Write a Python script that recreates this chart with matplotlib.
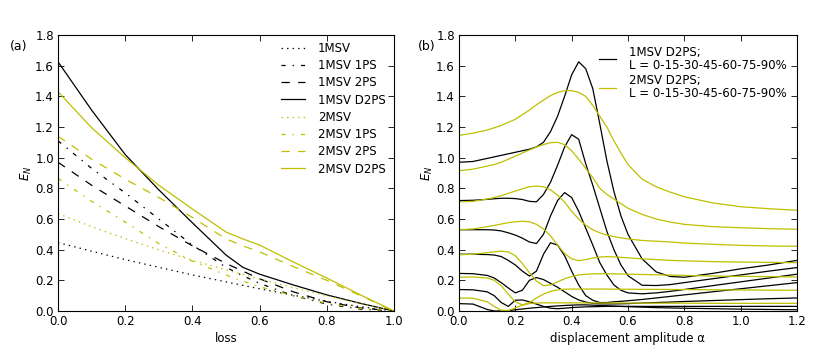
import matplotlib
matplotlib.use('Agg')
import matplotlib.pyplot as plt

plt.rcParams['font.family'] = ['DejaVu Sans']
plt.rcParams['font.size'] = 8.5
plt.rcParams['lines.scale_dashes'] = False
plt.rcParams['lines.dashed_pattern'] = [6, 6]
plt.rcParams['lines.dashdot_pattern'] = [3, 5, 1, 5]
plt.rcParams['lines.dotted_pattern'] = [1, 3]

YEL = (0.75, 0.75, 0.0)

# ---- panel (a): E_N vs loss ----
loss = [0.0, 0.1, 0.2, 0.3, 0.4, 0.5, 0.55, 0.6, 0.7, 0.8, 0.9, 1.0]
msv1 = [0.446, 0.39, 0.335, 0.285, 0.235, 0.19, 0.167, 0.145, 0.103, 0.063, 0.028, 0.0]
msv1_1ps = [1.11, 0.93, 0.77, 0.60, 0.43, 0.285, 0.23, 0.18, 0.10, 0.045, 0.012, 0.0]
msv1_2ps = [0.97, 0.82, 0.685, 0.55, 0.425, 0.31, 0.26, 0.21, 0.125, 0.06, 0.02, 0.0]
msv1_d2ps = [1.625, 1.31, 1.02, 0.79, 0.575, 0.365, 0.285, 0.24, 0.17, 0.105, 0.05, 0.0]
msv2 = [0.635, 0.55, 0.472, 0.399, 0.331, 0.268, 0.238, 0.208, 0.152, 0.099, 0.048, 0.0]
msv2_1ps = [0.865, 0.715, 0.58, 0.44, 0.325, 0.235, 0.195, 0.158, 0.10, 0.05, 0.017, 0.0]
msv2_2ps = [1.14, 0.99, 0.86, 0.74, 0.61, 0.47, 0.425, 0.385, 0.29, 0.20, 0.10, 0.0]
msv2_d2ps = [1.43, 1.195, 1.0, 0.82, 0.665, 0.515, 0.47, 0.43, 0.32, 0.215, 0.105, 0.0]

# ---- panel (b): E_N vs displacement, L = 0..90% ----
alpha = [0, 0.05, 0.1, 0.125, 0.15, 0.175, 0.2, 0.225, 0.25, 0.275, 0.3, 0.325, 0.35,
         0.375, 0.4, 0.425, 0.45, 0.475, 0.5, 0.525, 0.55, 0.575, 0.6, 0.65, 0.7,
         0.75, 0.8, 0.9, 1.0, 1.1, 1.2]
d1_L0 = [0.97, 0.975, 0.995, 1.005, 1.015, 1.025, 1.035, 1.045, 1.055, 1.07, 1.10, 1.17, 1.27,
         1.40, 1.54, 1.625, 1.58, 1.45, 1.22, 0.98, 0.78, 0.62, 0.50, 0.34, 0.255,
         0.225, 0.22, 0.245, 0.275, 0.30, 0.33]
d1_L15 = [0.72, 0.722, 0.728, 0.732, 0.735, 0.735, 0.733, 0.727, 0.715, 0.712, 0.76, 0.84, 0.95,
          1.07, 1.15, 1.12, 0.96, 0.82, 0.67, 0.52, 0.40, 0.30, 0.23, 0.168, 0.166,
          0.172, 0.185, 0.21, 0.235, 0.26, 0.283]
d1_L30 = [0.53, 0.53, 0.53, 0.528, 0.522, 0.51, 0.495, 0.475, 0.45, 0.44, 0.50, 0.62, 0.72,
          0.772, 0.74, 0.65, 0.54, 0.43, 0.315, 0.235, 0.17, 0.135, 0.118, 0.112, 0.118,
          0.128, 0.14, 0.165, 0.19, 0.215, 0.24]
d1_L45 = [0.37, 0.37, 0.368, 0.365, 0.355, 0.33, 0.30, 0.26, 0.228, 0.26, 0.37, 0.445, 0.43,
          0.36, 0.26, 0.17, 0.10, 0.07, 0.055, 0.055, 0.06, 0.063, 0.067, 0.075, 0.085,
          0.095, 0.105, 0.125, 0.145, 0.165, 0.185]
d1_L60 = [0.245, 0.243, 0.232, 0.215, 0.185, 0.15, 0.118, 0.135, 0.20, 0.218, 0.205, 0.18, 0.155,
          0.125, 0.095, 0.072, 0.058, 0.05, 0.047, 0.046, 0.046, 0.047, 0.048, 0.052, 0.055,
          0.058, 0.062, 0.068, 0.074, 0.08, 0.085]
d1_L75 = [0.14, 0.138, 0.125, 0.10, 0.055, 0.03, 0.07, 0.072, 0.06, 0.045, 0.03, 0.018, 0.015,
          0.018, 0.022, 0.025, 0.027, 0.028, 0.029, 0.03, 0.03, 0.03, 0.03, 0.03, 0.03,
          0.03, 0.03, 0.03, 0.03, 0.03, 0.03]
d1_L90 = [0.048, 0.045, 0.01, 0.0, 0.0, 0.002, 0.008, 0.013, 0.018, 0.022, 0.026, 0.03, 0.033,
          0.036, 0.038, 0.04, 0.04, 0.038, 0.036, 0.034, 0.032, 0.03, 0.028, 0.025, 0.022,
          0.02, 0.018, 0.015, 0.012, 0.01, 0.008]

d2_L0 = [1.145, 1.16, 1.18, 1.195, 1.21, 1.23, 1.25, 1.28, 1.31, 1.345, 1.375, 1.405, 1.425,
         1.437, 1.437, 1.425, 1.40, 1.34, 1.27, 1.20, 1.11, 1.03, 0.955, 0.86, 0.81,
         0.775, 0.745, 0.705, 0.68, 0.667, 0.657]
d2_L15 = [0.915, 0.925, 0.945, 0.955, 0.97, 0.99, 1.01, 1.03, 1.05, 1.07, 1.085, 1.098, 1.10,
          1.085, 1.045, 0.99, 0.93, 0.87, 0.80, 0.76, 0.73, 0.70, 0.67, 0.63, 0.60,
          0.58, 0.565, 0.55, 0.543, 0.537, 0.533]
d2_L30 = [0.712, 0.715, 0.73, 0.74, 0.752, 0.767, 0.782, 0.797, 0.81, 0.815, 0.81, 0.79, 0.755,
          0.71, 0.65, 0.60, 0.56, 0.53, 0.51, 0.495, 0.485, 0.477, 0.47, 0.46, 0.455,
          0.45, 0.443, 0.435, 0.428, 0.424, 0.422]
d2_L45 = [0.53, 0.535, 0.55, 0.558, 0.567, 0.576, 0.582, 0.585, 0.582, 0.565, 0.535, 0.49, 0.43,
          0.375, 0.34, 0.328, 0.335, 0.345, 0.352, 0.354, 0.353, 0.35, 0.347, 0.34, 0.335,
          0.33, 0.327, 0.322, 0.319, 0.317, 0.315]
d2_L60 = [0.367, 0.37, 0.38, 0.386, 0.39, 0.385, 0.36, 0.31, 0.25, 0.195, 0.165, 0.17, 0.19,
          0.21, 0.225, 0.235, 0.24, 0.242, 0.243, 0.243, 0.242, 0.241, 0.24, 0.238, 0.236,
          0.234, 0.232, 0.228, 0.226, 0.224, 0.222]
d2_L75 = [0.22, 0.222, 0.215, 0.20, 0.165, 0.11, 0.06, 0.04, 0.055, 0.085, 0.11, 0.128, 0.138,
          0.142, 0.143, 0.143, 0.143, 0.143, 0.143, 0.143, 0.142, 0.142, 0.142, 0.141, 0.141,
          0.14, 0.14, 0.138, 0.137, 0.136, 0.135]
d2_L90 = [0.085, 0.083, 0.06, 0.03, 0.005, 0.003, 0.02, 0.038, 0.048, 0.052, 0.053, 0.053, 0.053,
          0.053, 0.053, 0.053, 0.052, 0.052, 0.052, 0.052, 0.052, 0.052, 0.052, 0.051, 0.051,
          0.051, 0.051, 0.05, 0.05, 0.05, 0.05]

msv1_curves = [d1_L0, d1_L15, d1_L30, d1_L45, d1_L60, d1_L75, d1_L90]
msv2_curves = [d2_L0, d2_L15, d2_L30, d2_L45, d2_L60, d2_L75, d2_L90]
label_b = 'L = 0-15-30-45-60-75-90%'


def style_axes(ax, xmax):
    ax.set_xlim(0, xmax)
    ax.set_ylim(0, 1.8)
    ax.set_yticks([0.0, 0.2, 0.4, 0.6, 0.8, 1.0, 1.2, 1.4, 1.6, 1.8])
    ax.set_xticks([i * 0.2 for i in range(int(round(xmax / 0.2)) + 1)])
    ax.xaxis.set_major_formatter(matplotlib.ticker.FormatStrFormatter('%.1f'))
    ax.yaxis.set_major_formatter(matplotlib.ticker.FormatStrFormatter('%.1f'))
    ax.tick_params(direction='in', top=True, right=True, length=4, width=0.6,
                   labelsize=8.5, pad=3)
    for s in ax.spines.values():
        s.set_linewidth(0.8)
    ax.set_ylabel('$E_N$', fontsize=8.5, labelpad=1)


fig = plt.figure(figsize=(8.3, 3.46), dpi=100)
ax1 = fig.add_axes([0.0699, 0.1012, 0.4048, 0.7977])
ax2 = fig.add_axes([0.553, 0.1012, 0.4072, 0.7977])

lw = 0.9
ax1.plot(loss, msv1, ':', color='k', lw=lw, label='1MSV')
ax1.plot(loss, msv1_1ps, '-.', color='k', lw=lw, label='1MSV 1PS')
ax1.plot(loss, msv1_2ps, '--', color='k', lw=lw, label='1MSV 2PS')
ax1.plot(loss, msv1_d2ps, '-', color='k', lw=lw, label='1MSV D2PS')
ax1.plot(loss, msv2, ':', color=YEL, lw=lw, label='2MSV')
ax1.plot(loss, msv2_1ps, '-.', color=YEL, lw=lw, label='2MSV 1PS')
ax1.plot(loss, msv2_2ps, '--', color=YEL, lw=lw, label='2MSV 2PS')
ax1.plot(loss, msv2_d2ps, '-', color=YEL, lw=lw, label='2MSV D2PS')
style_axes(ax1, 1.0)
ax1.set_xlabel('loss', fontsize=8.5, labelpad=3)
ax1.legend(loc='upper right', bbox_to_anchor=(1.0, 1.005), frameon=False, fontsize=8.5,
           handlelength=2.0, handletextpad=1.1, labelspacing=0.36, borderaxespad=0.3)

for i, c in enumerate(msv1_curves):
    ax2.plot(alpha, c, '-', color='k', lw=lw, label='1MSV D2PS;\n' + label_b if i == 0 else None)
for i, c in enumerate(msv2_curves):
    ax2.plot(alpha, c, '-', color=YEL, lw=lw, label='2MSV D2PS;\n' + label_b if i == 0 else None)
style_axes(ax2, 1.2)
ax2.set_xlabel('displacement amplitude \u03b1', fontsize=8.5, labelpad=3)
leg = ax2.legend(loc='upper right', frameon=False, fontsize=8.5, handlelength=1.4,
                 handletextpad=1.1, labelspacing=0.2, borderaxespad=0.5)
for t in leg.get_texts():
    t.set_linespacing(1.0)

fig.text(0.012, 0.855, '(a)', fontsize=9)
fig.text(0.503, 0.855, '(b)', fontsize=9)

fig.savefig('out.png', dpi=100)
